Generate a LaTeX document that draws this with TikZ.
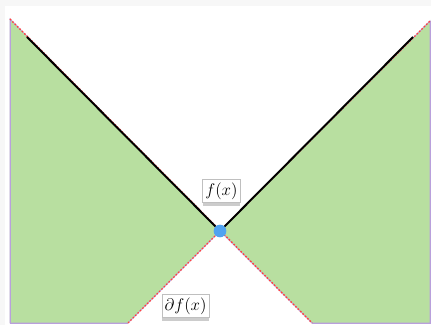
\documentclass[tikz,border=0pt]{standalone}
\usepackage{amsmath,amssymb}
\usepackage{tikz}
\usepackage{xcolor}
\usetikzlibrary{positioning,shadows,calc}

\definecolor{cone}{RGB}{184,223,160}
\definecolor{rim}{RGB}{185,160,220}
\definecolor{dot}{RGB}{80,162,240}
\definecolor{back}{RGB}{247,247,247}

\begin{document}
\begin{tikzpicture}[x=0.5cm, y=0.5cm,
  region/.style={fill=cone, draw=rim, line width=0.6pt},
  graph/.style={line width=1.4pt, draw=black},
  sub/.style={line width=1pt, draw=red!75, dash pattern=on 1.2pt off 1.2pt},
  pt/.style={circle, fill=dot, inner sep=0pt, minimum size=9pt},
  tag/.style={fill=white, draw=black!25, line width=0.4pt, inner sep=2pt,
              font=\large,
              drop shadow={shadow xshift=0pt, shadow yshift=-2.5pt, opacity=0.4}}
]
% frame
\fill[back] (-11,-4.7) rectangle (10.55,11.55);
\fill[white] (-10.75,-4.7) rectangle (10.55,11.25);
\useasboundingbox (-11,-4.7) rectangle (10.55,11.55);

% corners of the two cones
\coordinate (lt) at (-10.5,10.6);
\coordinate (lb) at (-10.5,-4.6);
\coordinate (lc) at (-4.6,-4.6);
\coordinate (rt) at (10.5,10.5);
\coordinate (rb) at (10.5,-4.6);
\coordinate (rc) at (4.6,-4.6);
\coordinate (ga) at (-9.65,9.7);
\coordinate (gb) at (9.65,9.7);

\coordinate (x0) at (0,0);

% subdifferential cone
\fill[region] (x0) -- (lt) -- (lb) -- (lc) -- cycle;
\fill[region] (x0) -- (rt) -- (rb) -- (rc) -- cycle;
\draw[region, fill=none] (lt) -- (lb) -- (lc);
\draw[region, fill=none] (rt) -- (rb) -- (rc);

% boundary rays
\draw[sub] (lt) -- (rc);
\draw[sub] (lc) -- (rt);

% graph of f
\draw[graph] (ga) -- (x0) -- (gb);

\node[pt] (pt0) at (x0) {};

% labels
\node[tag] (fx) at (0.07,2.0) {$f(x)$};
\node[tag] (dfx) at (-1.72,-3.75) {$\partial f(x)$};
\end{tikzpicture}
\end{document}
